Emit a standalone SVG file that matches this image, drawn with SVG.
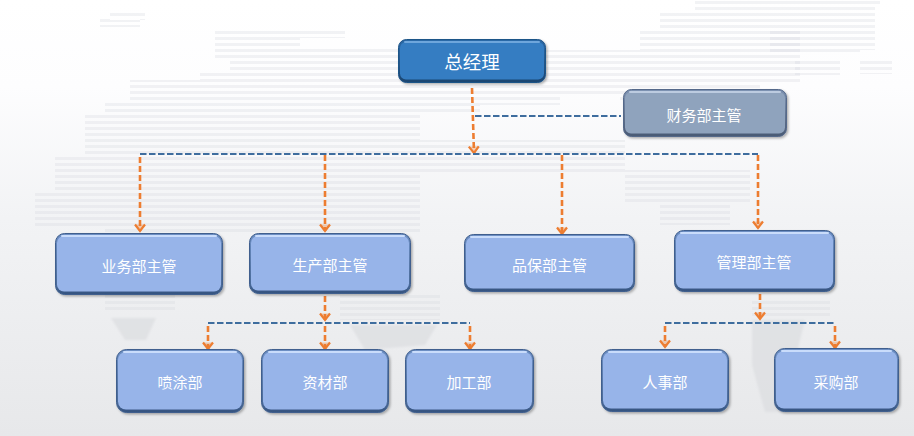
<svg xmlns="http://www.w3.org/2000/svg" width="914" height="436" viewBox="0 0 914 436">
<defs>
<linearGradient id="bg" x1="0" y1="0" x2="0" y2="1"><stop offset="0" stop-color="#ffffff"/><stop offset="0.2" stop-color="#fdfdfe"/><stop offset="0.5" stop-color="#f2f3f5"/><stop offset="1" stop-color="#e7e8ea"/></linearGradient>
<pattern id="st" width="6" height="6" patternUnits="userSpaceOnUse" y="1"><rect width="6" height="3" fill="#d4d7de" opacity="0.3"/></pattern>
<linearGradient id="edge" x1="0" y1="0" x2="0" y2="1"><stop offset="0" stop-color="#6d8fc4"/><stop offset="0.85" stop-color="#4a6a98"/><stop offset="1" stop-color="#34527e"/></linearGradient>
<linearGradient id="edgeD" x1="0" y1="0" x2="0" y2="1"><stop offset="0" stop-color="#2c6aa8"/><stop offset="1" stop-color="#1c4570"/></linearGradient>
<linearGradient id="edgeG" x1="0" y1="0" x2="0" y2="1"><stop offset="0" stop-color="#7d92b2"/><stop offset="1" stop-color="#4a5a74"/></linearGradient>
<filter id="sh" x="-10%" y="-10%" width="125%" height="130%"><feDropShadow dx="1.5" dy="1.5" stdDeviation="1.3" flood-color="#000" flood-opacity="0.3"/></filter>
<filter id="soft" x="-5%" y="-5%" width="110%" height="110%"><feGaussianBlur stdDeviation="0.7"/></filter>
<filter id="mb" x="-5%" y="-5%" width="110%" height="110%"><feGaussianBlur stdDeviation="0.5"/></filter>
<filter id="sb" x="-10%" y="-10%" width="120%" height="120%"><feGaussianBlur stdDeviation="1.2"/></filter>
<marker id="arr" markerUnits="userSpaceOnUse" markerWidth="14" markerHeight="14" refX="10" refY="7" orient="auto" viewBox="0 0 14 14"><path d="M3.500 2L10 7L3.500 12Z" fill="#ed7d31" opacity="0.35"/><path d="M3.500 2L10 7L3.500 12" fill="none" stroke="#ed7d31" stroke-width="2.200"/></marker>
</defs>
<style>
.mp{fill:url(#st)}
.solid{fill:#dcdde0;opacity:.7}
.edge{fill:url(#edge);stroke:#3f5f8e;stroke-width:1}
.edgeD{fill:url(#edgeD);stroke:#1f5488;stroke-width:1}
.edgeG{fill:url(#edgeG);stroke:#55698a;stroke-width:1}
.face{fill:#97b4e9}
.faceD{fill:#357dc2}
.faceG{fill:#8fa3bd}
.hi{fill:none;stroke:#c9dcfb;stroke-width:2;stroke-linecap:round}
.hiD{fill:none;stroke:#6ea6dc;stroke-width:2;stroke-linecap:round}
.hiG{fill:none;stroke:#bccbe0;stroke-width:2;stroke-linecap:round}
.t{font-family:"Noto Sans CJK SC","Noto Sans",sans-serif;fill:#fff;font-size:15px;text-anchor:middle;dominant-baseline:central}
.o{fill:none;stroke:#ed7d31;stroke-width:2.600;stroke-dasharray:6 3;marker-end:url(#arr)}
.b{fill:none;stroke:#3e6d9e;stroke-width:2.200;stroke-dasharray:6.500 2.500}
</style>
<rect width="914" height="436" fill="url(#bg)"/>
<g id="map">
<g filter="url(#mb)">
<path class="mp" d="M100 27H140V17H100ZM110 10H145V20H110Z"/>
<path class="mp" d="M215 28H345V38H300V48H400V50H640V30H800V85H760V100H620V95H560V105H480V115H420V140H625V170H750V205H730V225H660V205H625V175H420V232H105V228H35V190H55V155H85V115H105V100H130V80H200V70H230V58H215Z"/>
<path class="mp" d="M695 0H880V5H875V50H860V55H770V30H660V12H695Z"/>
<path class="mp" d="M860 60H892V74H860ZM795 60H840V75H795Z"/>
<path class="mp" d="M105 295H175V310H105ZM340 295H440V320H340ZM752 298H830V316H752Z"/>
</g>
<g filter="url(#sb)">
<path class="solid" d="M111 318H156L146 340L125 340ZM350 325H437L425 345L365 350ZM752 320H805L795 360L790 412L765 412L752 365Z"/>
</g>
</g>
<g id="connectors">
<path class="o" d="M472 88L474 153"/>
<path class="b" d="M475 116H621"/>
<path class="b" d="M140 154H758"/>
<path class="o" d="M140 157V231"/>
<path class="o" d="M325 155V231"/>
<path class="o" d="M562 155V234"/>
<path class="o" d="M758 155V228"/>
<path class="o" d="M325 296V320"/>
<path class="b" d="M208 323H470"/>
<path class="o" d="M208 326V349"/>
<path class="o" d="M325 326V349"/>
<path class="o" d="M470 326V349"/>
<path class="o" d="M760 294V319"/>
<path class="b" d="M665 323H836"/>
<path class="o" d="M665 326V347"/>
<path class="o" d="M835 326V348"/>
</g>
<g id="n-gm"><rect class="edgeD" x="398.500" y="39.500" width="147" height="43" rx="8" filter="url(#sh)"/><rect class="faceD" x="400" y="42" width="144" height="37.500" rx="6" filter="url(#soft)"/><path class="hiD" d="M405 42H539"/><text class="t" style="font-size:18.500px" x="472" y="61">总经理</text></g>
<g id="n-fin"><rect class="edgeG" x="623.500" y="89.500" width="163" height="47" rx="8" filter="url(#sh)"/><rect class="faceG" x="625" y="92" width="160" height="41.500" rx="6" filter="url(#soft)"/><path class="hiG" d="M630 92H780"/><text class="t" x="704" y="114">财务部主管</text></g>
<g id="n-biz"><rect class="edge" x="55.500" y="233.500" width="167" height="61" rx="9" filter="url(#sh)"/><rect class="face" x="57" y="236" width="164" height="55.500" rx="7" filter="url(#soft)"/><path class="hi" d="M62 236H216"/><text class="t" x="139" y="265">业务部主管</text></g>
<g id="n-prod"><rect class="edge" x="249.500" y="233.500" width="161" height="60" rx="9" filter="url(#sh)"/><rect class="face" x="251" y="236" width="158" height="54.500" rx="7" filter="url(#soft)"/><path class="hi" d="M256 236H404"/><text class="t" x="330" y="264">生产部主管</text></g>
<g id="n-qa"><rect class="edge" x="464.500" y="234.500" width="170" height="57" rx="9" filter="url(#sh)"/><rect class="face" x="466" y="237" width="167" height="51.500" rx="7" filter="url(#soft)"/><path class="hi" d="M471 237H628"/><text class="t" x="549.500" y="264">品保部主管</text></g>
<g id="n-adm"><rect class="edge" x="674.500" y="230.500" width="160" height="61" rx="9" filter="url(#sh)"/><rect class="face" x="676" y="233" width="157" height="55.500" rx="7" filter="url(#soft)"/><path class="hi" d="M681 233H828"/><text class="t" x="754" y="261">管理部主管</text></g>
<g id="n-spray"><rect class="edge" x="116.500" y="349.500" width="127" height="63" rx="10" filter="url(#sh)"/><rect class="face" x="118" y="352" width="124" height="57.500" rx="8" filter="url(#soft)"/><path class="hi" d="M124 352H236"/><text class="t" x="180" y="381">喷涂部</text></g>
<g id="n-mat"><rect class="edge" x="261.500" y="349.500" width="127" height="63" rx="10" filter="url(#sh)"/><rect class="face" x="263" y="352" width="124" height="57.500" rx="8" filter="url(#soft)"/><path class="hi" d="M269 352H381"/><text class="t" x="325" y="381">资材部</text></g>
<g id="n-proc"><rect class="edge" x="405.500" y="349.500" width="128" height="63" rx="10" filter="url(#sh)"/><rect class="face" x="407" y="352" width="125" height="57.500" rx="8" filter="url(#soft)"/><path class="hi" d="M413 352H526"/><text class="t" x="469" y="381">加工部</text></g>
<g id="n-hr"><rect class="edge" x="601.500" y="349.500" width="127" height="62" rx="10" filter="url(#sh)"/><rect class="face" x="603" y="352" width="124" height="56.500" rx="8" filter="url(#soft)"/><path class="hi" d="M609 352H721"/><text class="t" x="665" y="381">人事部</text></g>
<g id="n-buy"><rect class="edge" x="774.500" y="348.500" width="124" height="63" rx="10" filter="url(#sh)"/><rect class="face" x="776" y="351" width="121" height="57.500" rx="8" filter="url(#soft)"/><path class="hi" d="M782 351H891"/><text class="t" x="836" y="381">采购部</text></g>
</svg>
